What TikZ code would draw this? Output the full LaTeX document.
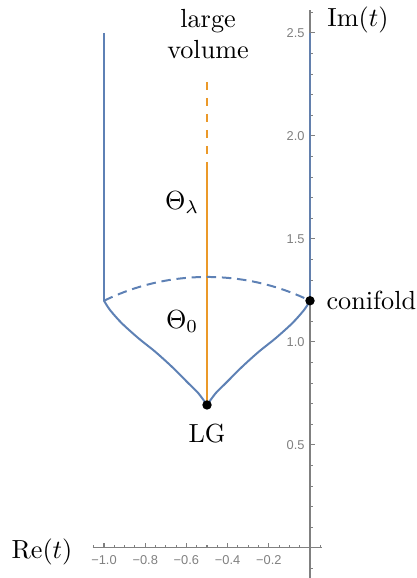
\documentclass[tikz,border=0pt]{standalone}
\usepackage{fontspec}
\newfontfamily\tickfont{Liberation Sans}
\usetikzlibrary{positioning}
\definecolor{mblue}{rgb}{0.368,0.507,0.710}
\definecolor{morange}{rgb}{0.92,0.60,0.16}
\definecolor{axgray}{gray}{0.5}

\begin{document}
\begin{tikzpicture}[x=2.764cm, y=2.764cm,
  bnd/.style={draw=mblue, line width=0.76pt},
  bnddash/.style={bnd, dash pattern=on 3.6pt off 2.2pt},
  ray/.style={draw=morange, line width=0.42pt},
  raydash/.style={ray, dash pattern=on 3.05pt off 3.05pt},
  dot/.style={circle, fill=black, inner sep=0pt, minimum size=3.6pt},
  axis/.style={draw=axgray, line width=0.4pt},
  ticklab/.style={text=axgray, font=\tickfont\fontsize{4.9}{6}\selectfont, inner sep=1pt}
]
\useasboundingbox (-1.505,-0.146) rectangle (0.515,2.660);

% special points
\coordinate (lgpt)    at (-0.5,0.694);
\coordinate (conipt)  at (0,1.2);
\coordinate (lcorner) at (-1,1.2);
\coordinate (ltop)    at (-1,2.5);
\coordinate (rtop)    at (0,2.5);
\coordinate (raytop)  at (-0.5,2.262);
\coordinate (raymid)  at (-0.5,1.874);

% axes
\coordinate (xmin) at (-1.055,0);
\coordinate (xmax) at (0.06,0);
\coordinate (ymin) at (0,-0.145);
\coordinate (ymax) at (0,2.61);
\draw[axis] (xmin) -- (xmax);
\draw[axis] (ymin) -- (ymax);
\foreach \t in {-1.05,-1.0,...,0.06}
  \draw[axis] (\t,0) -- ++(0,0.0146);
\foreach \t in {-0.1,0,...,2.65}
  \draw[axis] (0,\t) -- ++(0.0146,0);
\foreach \t [count=\i] in {1.0,0.8,0.6,0.4,0.2} {
  \draw[axis] (-\t,0) -- ++(0,0.024);
  \node[ticklab] (xlab\i) at (-\t,-0.058) {−\t};
}
\foreach \t [count=\i] in {0.5,1.0,1.5,2.0,2.5} {
  \draw[axis] (0,\t) -- ++(0.024,0);
  \node[ticklab, anchor=east] (ylab\i) at (-0.0116,\t) {\t};
}
\node (relab) at (-1.301,-0.019) {$\mathrm{Re}(t)$};
\node (imlab) at (0.233,2.563) {$\mathrm{Im}(t)$};

% ray from LG to large volume
\draw[ray] (lgpt) -- (raymid);
\draw[raydash] (raytop) -- (raymid);

% boundary of the domain
\draw[bnd] (ltop) -- (lcorner);
\draw[bnd] plot[smooth, tension=0.5] coordinates {(lcorner) (-0.971,1.155) (-0.914,1.091)
  (-0.833,1.018) (-0.752,0.953) (-0.671,0.880) (-0.591,0.800) (-0.542,0.751) (lgpt)};
\draw[bnd] plot[smooth, tension=0.5] coordinates {(lgpt) (-0.458,0.751) (-0.409,0.800)
  (-0.329,0.880) (-0.248,0.953) (-0.167,1.018) (-0.086,1.091) (-0.029,1.155) (conipt)};
\draw[bnddash] (lcorner) to[bend left=26, looseness=0.9] (conipt);
\draw[bnd, draw opacity=0.85] (conipt) -- (rtop);

% points and labels
\node[dot] (lg) at (lgpt) {};
\node[dot] (conifold) at (conipt) {};
\node[below=1.6pt of lg] (lglab) {LG};
\node[right=0.8pt of conifold] (conilab) {conifold};
\node[align=center] (lvlab) at (-0.495,2.495) {large\\volume};
\node (thl) at (-0.621,1.675) {$\Theta_\lambda$};
\node (th0) at (-0.621,1.097) {$\Theta_0$};

\end{tikzpicture}
\end{document}
